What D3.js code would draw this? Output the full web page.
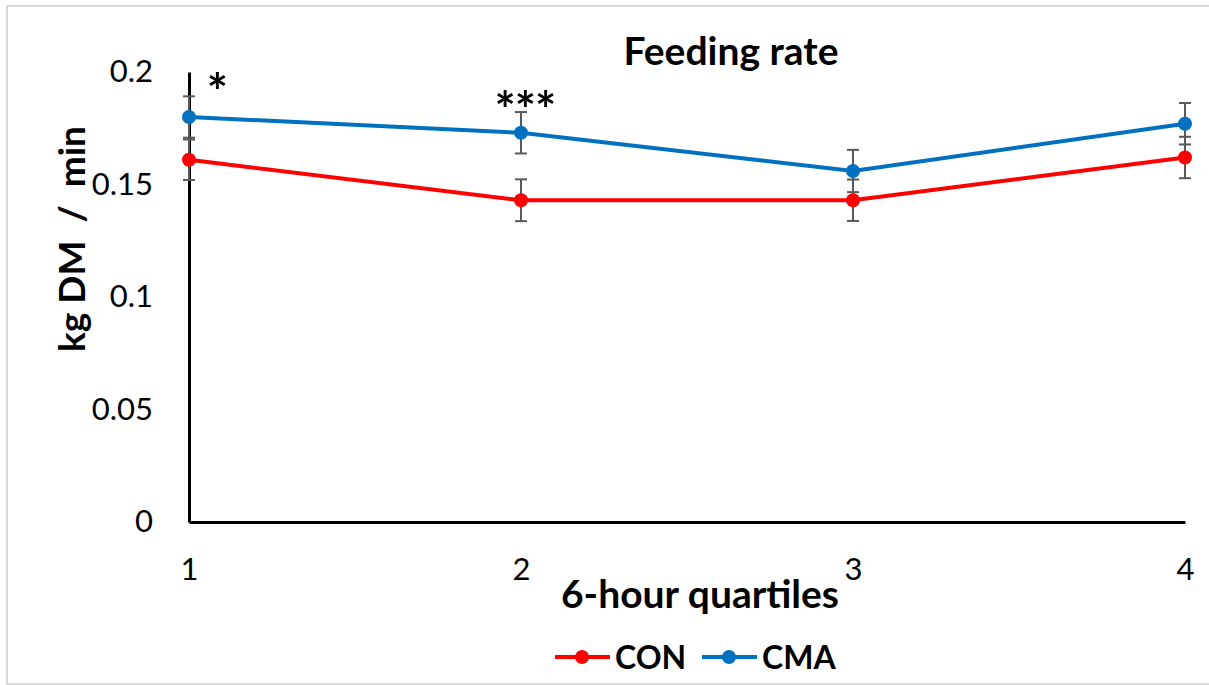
<!DOCTYPE html>
<html>
<head>
<meta charset="utf-8">
<script src="https://cdn.jsdelivr.net/npm/d3@7"></script>
<style>
  body { margin: 0; background: #fff; }
  text { font-family: Lato, "Open Sans", sans-serif; fill: #000; }
</style>
</head>
<body>
<div id="chart"></div>
<script>
// data
var quartiles = [1, 2, 3, 4];
var conValues = [0.161, 0.143, 0.143, 0.162];
var cmaValues = [0.180, 0.173, 0.156, 0.177];
var conErr = [0.009, 0.0093, 0.0092, 0.0092];
var cmaErr = [0.0092, 0.0092, 0.0094, 0.0092];
var sigLabels = ["*", "***", "", ""];
var yTicks = [0, 0.05, 0.1, 0.15, 0.2];

var width = 1209;
var height = 685;

var svg = d3.select("#chart")
    .append("svg")
    .attr("width", width)
    .attr("height", height);

// chart area border
svg.append("rect")
    .attr("x", 7)
    .attr("y", 6)
    .attr("width", width + 10)
    .attr("height", height - 7)
    .attr("fill", "none")
    .attr("stroke", "#d9d9d9")
    .attr("stroke-width", 2);

var x = d3.scaleLinear().domain([1, 4]).range([189, 1185]);
var y = d3.scaleLinear().domain([0, 0.2]).range([522, 72]);

// y axis (no ticks, labels only)
var yAxis = d3.axisLeft(y)
    .tickValues(yTicks)
    .tickFormat(function(d){ return d === 0 ? "0" : String(+d.toFixed(2)); })
    .tickSize(0)
    .tickPadding(36);

var gy = svg.append("g")
    .attr("transform", "translate(189,0)")
    .call(yAxis);
gy.select(".domain").attr("stroke", "#000").attr("stroke-width", 3);
gy.selectAll("text")
    .style("font-family", "Lato, sans-serif")
    .style("font-size", "31px")
    .attr("fill", "#000");

// x axis
var xAxis = d3.axisBottom(x)
    .tickValues(quartiles)
    .tickFormat(d3.format("d"))
    .tickSize(0)
    .tickPadding(36);

var gx = svg.append("g")
    .attr("transform", "translate(0,522)")
    .call(xAxis);
gx.select(".domain").attr("stroke", "#000").attr("stroke-width", 3);
gx.selectAll("text")
    .style("font-family", "Lato, sans-serif")
    .style("font-size", "31px")
    .attr("fill", "#000");

var series = [
    {name: "CON", color: "#ff0000", values: conValues, err: conErr},
    {name: "CMA", color: "#0070c0", values: cmaValues, err: cmaErr}
];

var line = d3.line()
    .x(function(d){ return x(d.q); })
    .y(function(d){ return y(d.v); });

series.forEach(function(s) {
    var pts = quartiles.map(function(q, i){ return {q: q, v: s.values[i], e: s.err[i]}; });
    var g = svg.append("g");

    // error bars
    var eb = g.selectAll(".eb")
        .data(pts)
        .enter().append("g")
        .attr("stroke", "#595959")
        .attr("stroke-width", 2);
    eb.append("line")
        .attr("x1", function(d){ return x(d.q); })
        .attr("x2", function(d){ return x(d.q); })
        .attr("y1", function(d){ return y(d.v + d.e); })
        .attr("y2", function(d){ return y(d.v - d.e); });
    eb.append("line")
        .attr("x1", function(d){ return x(d.q) - 6; })
        .attr("x2", function(d){ return x(d.q) + 6; })
        .attr("y1", function(d){ return y(d.v + d.e); })
        .attr("y2", function(d){ return y(d.v + d.e); });
    eb.append("line")
        .attr("x1", function(d){ return x(d.q) - 6; })
        .attr("x2", function(d){ return x(d.q) + 6; })
        .attr("y1", function(d){ return y(d.v - d.e); })
        .attr("y2", function(d){ return y(d.v - d.e); });

    g.append("path")
        .datum(pts)
        .attr("d", line)
        .attr("fill", "none")
        .attr("stroke", s.color)
        .attr("stroke-width", 4);

    g.selectAll("circle")
        .data(pts)
        .enter().append("circle")
        .attr("cx", function(d){ return x(d.q); })
        .attr("cy", function(d){ return y(d.v); })
        .attr("r", 7)
        .attr("fill", s.color);
});

// significance stars
var sigOffsets = [28, 4, 0, 0];
svg.selectAll(".sig")
    .data(sigLabels)
    .enter().append("text")
    .attr("x", function(d, i){ return x(quartiles[i]) + sigOffsets[i]; })
    .attr("y", function(d, i){ return i === 0 ? 110 : 128; })
    .attr("text-anchor", "middle")
    .style("font-size", "50px")
    .style("font-weight", "bold")
    .style("letter-spacing", "-1px")
    .text(function(d){ return d; });

// title
svg.append("text")
    .attr("x", 731)
    .attr("y", 65)
    .attr("text-anchor", "middle")
    .style("font-size", "39px")
    .style("font-weight", "bold")
    .text("Feeding rate");

// axis titles
svg.append("text")
    .attr("x", 700)
    .attr("y", 608)
    .attr("text-anchor", "middle")
    .style("font-size", "39px")
    .style("font-weight", "bold")
    .text("6-hour quartiles");

svg.append("text")
    .attr("transform", "translate(85,239) rotate(-90)")
    .attr("text-anchor", "middle")
    .attr("xml:space", "preserve")
    .style("white-space", "pre")
    .style("font-size", "37px")
    .style("font-weight", "bold")
    .text("kg DM  /  min");

// legend
var legend = svg.append("g");
var legendX = [555, 702];
series.forEach(function(s, i) {
    var lg = legend.append("g").attr("transform", "translate(" + legendX[i] + ",657)");
    lg.append("line")
        .attr("x1", 0).attr("x2", 55)
        .attr("y1", 0).attr("y2", 0)
        .attr("stroke", s.color)
        .attr("stroke-width", 4);
    lg.append("circle")
        .attr("cx", 27).attr("cy", 0).attr("r", 7)
        .attr("fill", s.color);
    lg.append("text")
        .attr("x", 60)
        .attr("y", 12)
        .style("font-size", "32px")
        .style("font-weight", "bold")
        .text(s.name);
});
</script>
</body>
</html>
